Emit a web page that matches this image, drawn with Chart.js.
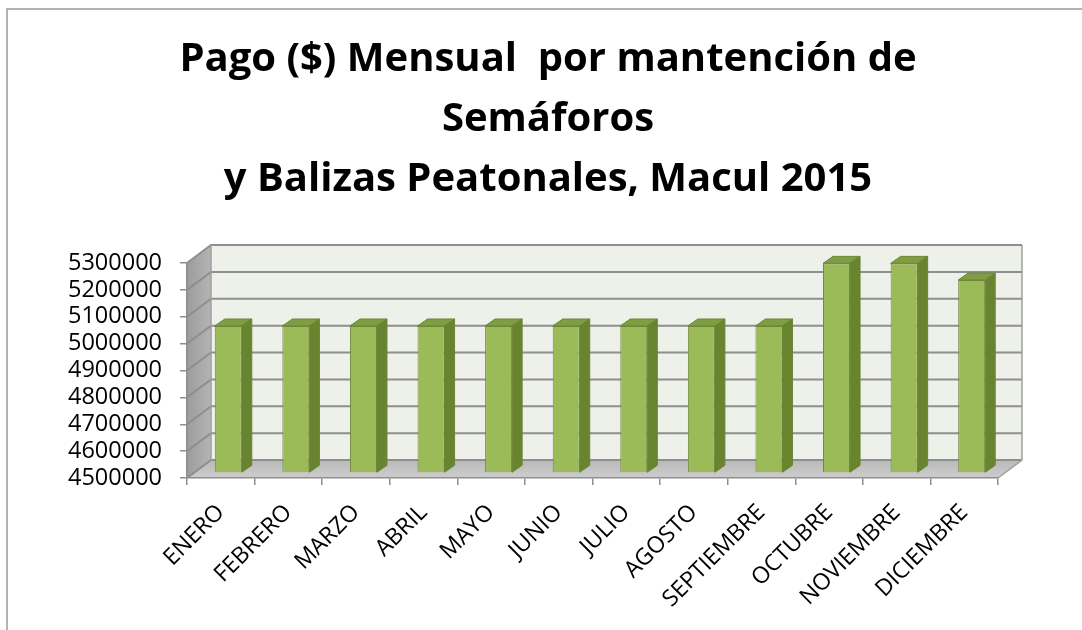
<!DOCTYPE html>
<html>
<head>
<meta charset="utf-8">
<script src="https://cdn.jsdelivr.net/npm/chart.js@4.4.1/dist/chart.umd.min.js"></script>
<style>
  html, body { margin: 0; padding: 0; background: #fff; }
  #wrap { width: 1082px; height: 630px; position: relative; }
</style>
</head>
<body>
<div id="wrap"><canvas id="myChart"></canvas></div>
<script>
// datos del gráfico
const meses = ["ENERO", "FEBRERO", "MARZO", "ABRIL", "MAYO", "JUNIO", "JULIO",
               "AGOSTO", "SEPTIEMBRE", "OCTUBRE", "NOVIEMBRE", "DICIEMBRE"];
const pagos = [5047000, 5047000, 5047000, 5047000, 5047000, 5047000, 5047000,
               5047000, 5047000, 5280000, 5280000, 5218000];
const tituloLineas = ["Pago ($) Mensual  por mantención de", "Semáforos", "y Balizas Peatonales, Macul 2015"];
const ejeMin = 4500000;
const ejeMax = 5300000;
const ejePaso = 100000;

// profundidad del "3D"
const PARED_DX = 24, PARED_DY = -18;   // pared de fondo
const BARRA_DX = 7.5, BARRA_DY = -5;   // desplazamiento de la cara frontal
const CARA_DX = 10, CARA_DY = -7;      // profundidad de cada barra

// paredes, piso y líneas de división
const fondo3D = {
  id: 'fondo3D',
  beforeDraw(chart) {
    const ctx = chart.ctx;
    const a = chart.chartArea;
    const y = chart.scales.y;
    ctx.save();
    ctx.fillStyle = '#ffffff';
    ctx.fillRect(0, 0, chart.width, chart.height);

    // marco
    ctx.strokeStyle = '#9a9a9a';
    ctx.lineWidth = 1.5;
    ctx.beginPath();
    ctx.moveTo(7, chart.height);
    ctx.lineTo(7, 9);
    ctx.lineTo(chart.width, 9);
    ctx.stroke();

    // pared de fondo
    ctx.fillStyle = '#eef0ea';
    ctx.fillRect(a.left + PARED_DX, a.top + PARED_DY, a.right - a.left, a.bottom - a.top);

    // pared lateral
    let g = ctx.createLinearGradient(a.left, 0, a.left + PARED_DX, 0);
    g.addColorStop(0, '#9c9c9c');
    g.addColorStop(1, '#b4b4b4');
    ctx.fillStyle = g;
    ctx.beginPath();
    ctx.moveTo(a.left, a.top);
    ctx.lineTo(a.left + PARED_DX, a.top + PARED_DY);
    ctx.lineTo(a.left + PARED_DX, a.bottom + PARED_DY);
    ctx.lineTo(a.left, a.bottom);
    ctx.closePath();
    ctx.fill();

    // piso
    g = ctx.createLinearGradient(0, a.bottom + PARED_DY, 0, a.bottom);
    g.addColorStop(0, '#b9b9b9');
    g.addColorStop(1, '#cdcdcd');
    ctx.fillStyle = g;
    ctx.beginPath();
    ctx.moveTo(a.left, a.bottom);
    ctx.lineTo(a.right, a.bottom);
    ctx.lineTo(a.right + PARED_DX, a.bottom + PARED_DY);
    ctx.lineTo(a.left + PARED_DX, a.bottom + PARED_DY);
    ctx.closePath();
    ctx.fill();

    // líneas de división en pared de fondo y lateral
    ctx.strokeStyle = '#8e8e8e';
    ctx.lineWidth = 2;
    for (let v = ejeMin; v <= ejeMax; v += ejePaso) {
      const py = y.getPixelForValue(v);
      ctx.beginPath();
      ctx.moveTo(a.left, py);
      ctx.lineTo(a.left + PARED_DX, py + PARED_DY);
      ctx.lineTo(a.right + PARED_DX, py + PARED_DY);
      ctx.stroke();
    }
    // bordes
    ctx.lineWidth = 1.5;
    ctx.strokeStyle = '#a0a0a0';
    ctx.beginPath();
    ctx.moveTo(a.left + PARED_DX, a.top + PARED_DY);
    ctx.lineTo(a.left + PARED_DX, a.bottom + PARED_DY);
    ctx.moveTo(a.right + PARED_DX, a.top + PARED_DY);
    ctx.lineTo(a.right + PARED_DX, a.bottom + PARED_DY);
    ctx.lineTo(a.right, a.bottom);
    ctx.stroke();
    ctx.restore();
  },
  beforeDatasetDraw(chart) {
    chart.ctx.save();
    chart.ctx.translate(BARRA_DX, BARRA_DY);
  },
  afterDatasetDraw(chart, args) {
    const ctx = chart.ctx;
    args.meta.data.forEach(bar => {
      const p = bar.getProps(['x', 'y', 'base', 'width'], true);
      const x1 = p.x - p.width / 2, x2 = p.x + p.width / 2;
      // cara superior
      ctx.fillStyle = '#7f9d42';
      ctx.strokeStyle = '#6a8634';
      ctx.lineWidth = 1;
      ctx.beginPath();
      ctx.moveTo(x1, p.y);
      ctx.lineTo(x2, p.y);
      ctx.lineTo(x2 + CARA_DX, p.y + CARA_DY);
      ctx.lineTo(x1 + CARA_DX, p.y + CARA_DY);
      ctx.closePath();
      ctx.fill();
      ctx.stroke();
      // cara lateral
      ctx.fillStyle = '#68842f';
      ctx.beginPath();
      ctx.moveTo(x2, p.y);
      ctx.lineTo(x2 + CARA_DX, p.y + CARA_DY);
      ctx.lineTo(x2 + CARA_DX, p.base + CARA_DY);
      ctx.lineTo(x2, p.base);
      ctx.closePath();
      ctx.fill();
      ctx.stroke();
    });
    ctx.restore();
  }
};

const ctx = document.getElementById("myChart").getContext("2d");
const myChart = new Chart(ctx, {
  type: 'bar',
  data: {
    labels: meses,
    datasets: [{
      data: pagos,
      base: ejeMin,
      backgroundColor: '#9bbb59',
      borderColor: '#71893f',
      borderWidth: 1,
      categoryPercentage: 1,
      barPercentage: 0.4,
      clip: false
    }]
  },
  options: {
    responsive: true,
    maintainAspectRatio: false,
    animation: false,
    layout: { padding: { left: 50, right: 36, top: 0, bottom: 0 } },
    plugins: {
      legend: { display: false },
      tooltip: { enabled: false },
      title: {
        display: true,
        text: tituloLineas,
        color: '#000000',
        font: { family: 'Open Sans', size: 40, weight: 'bold', lineHeight: '60px' },
        padding: { top: 30, bottom: 53 }
      }
    },
    scales: {
      x: {
        grid: { display: true, drawOnChartArea: false, drawTicks: true, tickLength: 7, color: '#8e8e8e', lineWidth: 1.5 },
        border: { display: true, color: '#8e8e8e', width: 1.5 },
        ticks: {
          autoSkip: false, maxRotation: 45, minRotation: 45,
          padding: 14, color: '#000000',
          font: { family: 'Open Sans', size: 23 }
        },
        afterFit(scale) { scale.height = 152; }
      },
      y: {
        min: ejeMin,
        max: ejeMax,
        grid: { display: true, drawOnChartArea: false, drawTicks: true, tickLength: 7, color: '#8e8e8e', lineWidth: 1.5 },
        border: { display: true, color: '#8e8e8e', width: 1.5 },
        ticks: {
          autoSkip: false,
          stepSize: ejePaso,
          padding: 18,
          color: '#000000',
          font: { family: 'Open Sans', size: 23.5 },
          callback: v => String(v)
        },
        afterFit(scale) { scale.width = 137; }
      },
      // eje vacío a la derecha, solo reserva espacio para la pared 3D
      y2: {
        position: 'right',
        display: true,
        min: ejeMin,
        max: ejeMax,
        grid: { display: false },
        border: { display: false },
        ticks: { display: false },
        afterFit(scale) { scale.width = 48; }
      }
    }
  },
  plugins: [fondo3D]
});
</script>
</body>
</html>
